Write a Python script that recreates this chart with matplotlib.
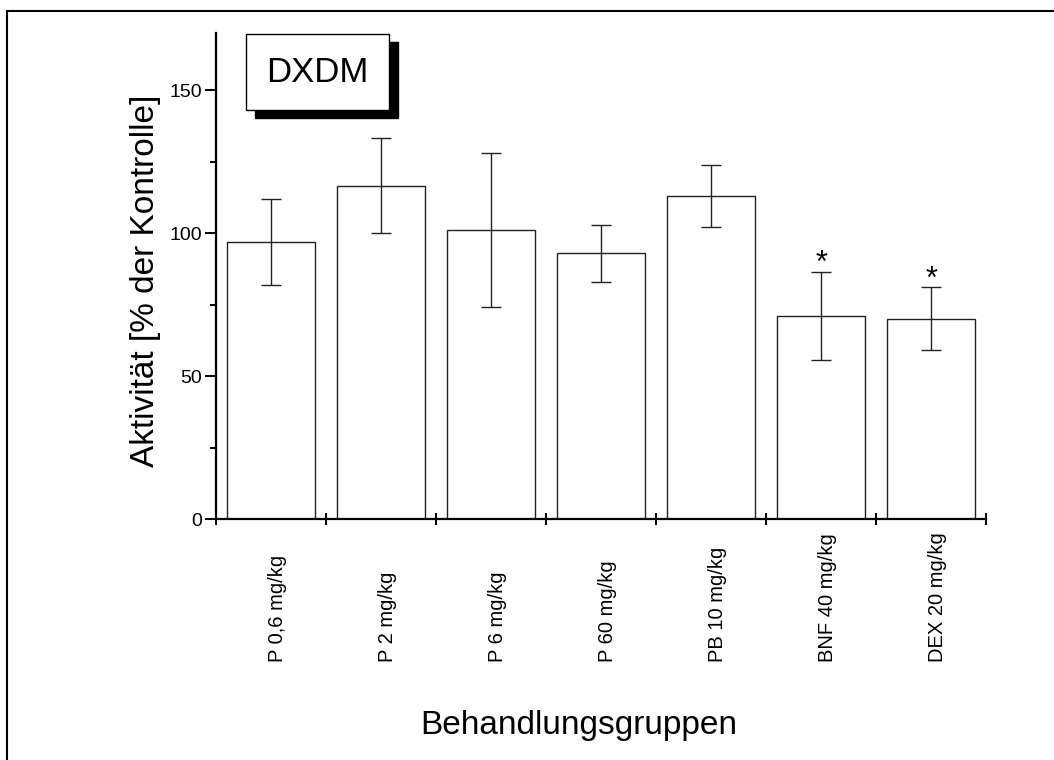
import matplotlib
matplotlib.use("Agg")
import matplotlib.pyplot as plt
from matplotlib.patches import Rectangle
from matplotlib.lines import Line2D
from matplotlib.ticker import FixedLocator, NullFormatter

plt.rcParams["font.family"] = ["Liberation Sans", "DejaVu Sans"]

groups = ["P 0,6 mg/kg", "P 2 mg/kg", "P 6 mg/kg", "P 60 mg/kg",
          "PB 10 mg/kg", "BNF 40 mg/kg", "DEX 20 mg/kg"]
activity = [97, 116.5, 101, 93, 113, 71, 70]
error = [15, 16.6, 27, 10, 11, 15.5, 11]
significant = [False, False, False, False, False, True, True]

W, H = 1054, 760
fig = plt.figure(figsize=(W / 100, H / 100), dpi=100)
ax = fig.add_axes([216 / W, 1 - 519 / H, 770 / W, 486 / H])

x = list(range(len(groups)))
ax.bar(x, activity, width=0.8, color="white", edgecolor="#222222", linewidth=1.0)
ax.errorbar(x, activity, yerr=error, fmt="none", ecolor="#222222",
            elinewidth=1.0, capsize=7.5, capthick=1.0)

for xi, v, e, s in zip(x, activity, error, significant):
    if s:
        ax.text(xi, v + e, "*", ha="center", va="baseline", fontsize=22)

ax.set_xlim(-0.5, len(groups) - 0.5)
ax.set_ylim(0, 170)

for side in ("top", "right"):
    ax.spines[side].set_visible(False)
ax.spines["left"].set_linewidth(1.6)
ax.spines["bottom"].set_linewidth(1.6)

ax.yaxis.set_major_locator(FixedLocator([0, 50, 100, 150]))
ax.yaxis.set_minor_locator(FixedLocator([25, 75, 125]))
ax.tick_params(axis="y", which="major", direction="out", length=8, width=1.4,
               labelsize=14, pad=2)
ax.tick_params(axis="y", which="minor", direction="out", length=4.5, width=1.4)

ax.xaxis.set_major_locator(FixedLocator([i - 0.5 for i in range(len(groups) + 1)]))
ax.xaxis.set_major_formatter(NullFormatter())
ax.tick_params(axis="x", which="major", direction="inout", length=9, width=1.4)

for xi, g in zip(x, groups):
    ax.text(xi + 0.06, -0.294, g, transform=ax.get_xaxis_transform(),
            rotation=90, ha="center", va="bottom", fontsize=14.5)

ax.set_ylabel("Aktivität [% der Kontrolle]", fontsize=24)
ax.yaxis.set_label_coords(-0.072, 0.49)
ax.set_xlabel("Behandlungsgruppen", fontsize=24)
ax.xaxis.set_label_coords(0.4714, -0.392)

# title box with drop shadow
bx, by, bw, bh = 246, 34, 143, 76
fig.patches.append(Rectangle(((bx + 9) / W, 1 - (by + bh + 8) / H), bw / W, bh / H,
                             transform=fig.transFigure, facecolor="black",
                             edgecolor="black", zorder=5))
fig.patches.append(Rectangle((bx / W, 1 - (by + bh) / H), bw / W, bh / H,
                             transform=fig.transFigure, facecolor="white",
                             edgecolor="black", linewidth=1.0, zorder=6))
fig.text((bx + bw / 2) / W, 1 - (by + bh / 2) / H, "DXDM", ha="center",
         va="center", fontsize=25, zorder=7)

# outer frame (only left and top visible)
fig.lines.append(Line2D([7 / W, 7 / W], [0, 1 - 11 / H], transform=fig.transFigure,
                        color="black", linewidth=1.5))
fig.lines.append(Line2D([7 / W, 1], [1 - 11 / H, 1 - 11 / H], transform=fig.transFigure,
                        color="black", linewidth=1.5))

fig.savefig("out.png", dpi=100)
